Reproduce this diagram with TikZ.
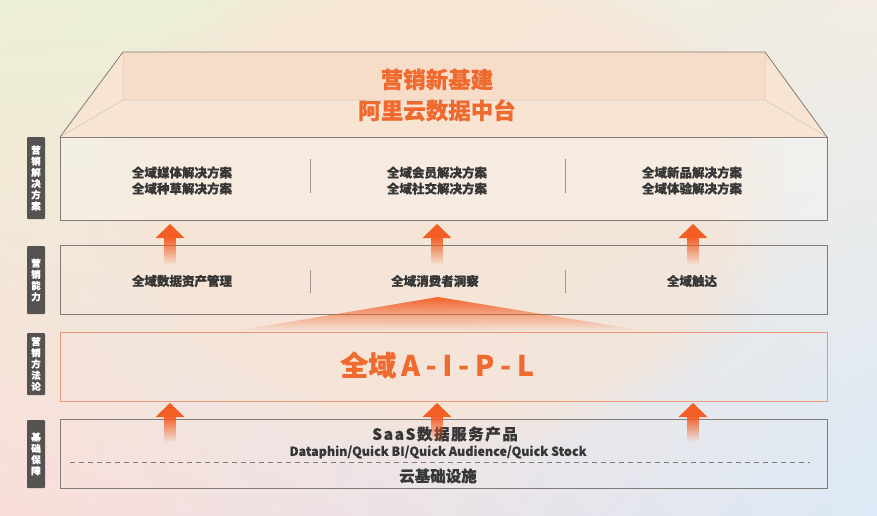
\documentclass[tikz,border=0pt]{standalone}
\usepackage{fontspec}
\setmainfont{Noto Sans CJK SC}
\usetikzlibrary{fadings,shadings}
\definecolor{bgTL}{RGB}{236,239,212}
\definecolor{bgTR}{RGB}{242,236,228}
\definecolor{bgBL}{RGB}{250,222,218}
\definecolor{bgBR}{RGB}{220,233,246}
\definecolor{peach}{RGB}{248,228,212}
\definecolor{roofc}{RGB}{248,228,210}
\definecolor{rooftop}{RGB}{247,220,199}
\definecolor{titleor}{RGB}{238,106,46}
\definecolor{arrowor}{RGB}{242,94,36}
\definecolor{txtgray}{RGB}{55,55,55}
\definecolor{linegray}{RGB}{130,124,120}
\definecolor{labgray}{RGB}{85,82,82}
\definecolor{aiplborder}{RGB}{236,150,118}
\tikzset{
  rowbox/.style={draw=linegray, line width=0.7pt, minimum width=767pt, inner sep=0pt},
  rowtxt/.style={text=txtgray, align=center, font=\bfseries\fontsize{12.5}{16}\selectfont\addfontfeature{FakeBold=0.8}},
  lab/.style={fill=labgray, text=white, minimum width=18pt, inner sep=0pt, rounded corners=1pt, align=center, font=\bfseries\fontsize{9.5}{11.2}\selectfont\addfontfeature{FakeBold=0.6}},
  divider/.style={draw=linegray!80, line width=0.5pt},
  headfill/.style={fill=arrowor},
  shaftfill/.style={fill=arrowor, path fading=south},
}
\newcommand{\uparrowshape}[4]{% x, tip y, head base y, shaft bottom y
  \fill[shaftfill] (#1-6,#3-1) rectangle (#1+6,#4);
  \fill[headfill] (#1-14.5,#3) -- (#1,#2) -- (#1+14.5,#3) -- cycle;
}
\begin{document}
\begin{tikzpicture}[x=1pt,y=-1pt]
\useasboundingbox (0,0) rectangle (877,515);
% background
\shade[upper left=bgTL, upper right=bgTR, lower left=bgBL, lower right=bgBR] (0,0) rectangle (877,515);
\fill[peach, path fading=circle with fuzzy edge 20 percent, opacity=0.7] (90,-60) rectangle (790,460);

% roof
\fill[roofc] (123,52) -- (765,52) -- (827,137) -- (60,137) -- cycle;
\fill[rooftop] (123,52) rectangle (765,100);
\draw[linegray!45, line width=0.5pt] (123,52) -- (123,100) -- (765,100) -- (765,52)
  (123,100) -- (60,137) (765,100) -- (827,137);
\draw[linegray, line width=0.8pt] (60,137) -- (123,52) -- (765,52) -- (827,137);
\node[text=titleor, font=\bfseries\fontsize{22.5}{31}\selectfont\addfontfeature{FakeBold=0.5}, align=center] (title) at (437,95) {营销新基建\\阿里云数据中台};

% row 1
\node[rowbox, minimum height=83pt, fill=white, fill opacity=0.25] (sol) at (443.5,178.5) {};
\node[rowtxt] (s1) at (182,180.5) {全域媒体解决方案\\全域种草解决方案};
\node[rowtxt] (s2) at (437,180.5) {全域会员解决方案\\全域社交解决方案};
\node[rowtxt] (s3) at (692,180.5) {全域新品解决方案\\全域体验解决方案};
\draw[divider] (310,159) -- (310,193) (565,159) -- (565,193);

% row 2
\node[rowbox, minimum height=69pt] (cap) at (443.5,279.5) {};
\node[rowtxt] (c1) at (182,281) {全域数据资产管理};
\node[rowtxt] (c2) at (435,281) {全域消费者洞察};
\node[rowtxt] (c3) at (692,281) {全域触达};
\draw[divider] (310,270) -- (310,293) (565,270) -- (565,293);

% arrows row2 -> row1
\uparrowshape{170}{224}{238}{265}
\uparrowshape{437}{224}{238}{265}
\uparrowshape{693}{224}{238}{265}

% triangle
\fill[arrowor, path fading=south, opacity=0.95] (438,297) -- (645,331) -- (235,331) -- cycle;

% row 3
\node[rowbox, draw=aiplborder, minimum height=69pt] (aipl) at (443.5,366.5) {};
\node[text=titleor, font=\bfseries\fontsize{28}{32}\selectfont\addfontfeature{FakeBold=0.5}] (aipltxt) at (437,365)
  {全域\hspace{5pt}A\hspace{6pt}-\hspace{6pt}I\hspace{6pt}-\hspace{6pt}P\hspace{6pt}-\hspace{6pt}L};

% row 4
\node[rowbox, minimum height=69pt] (base) at (443.5,453.5) {};
\node[text=txtgray, font=\bfseries\fontsize{15.5}{18}\selectfont\addfontfeature{LetterSpace=10,FakeBold=0.6}] (saas) at (445,434) {SaaS数据服务产品};
\node[text=txtgray, font=\bfseries\fontsize{12.5}{14}\selectfont\addfontfeature{FakeBold=0.4}] (prod) at (438,452) {Dataphin/Quick BI/Quick Audience/Quick Stock};
\coordinate (dl) at (70,462);
\coordinate (dr) at (810,462);
\draw[linegray, line width=0.8pt, dash pattern=on 5pt off 4pt] (dl) -- (dr);
\node[text=txtgray, font=\bfseries\fontsize{15.5}{18}\selectfont\addfontfeature{FakeBold=0.6}] (cloud) at (438,476) {云基础设施};

% arrows row4 -> row3
\uparrowshape{170}{403}{417}{442}
\uparrowshape{437}{403}{417}{442}
\uparrowshape{693}{403}{417}{442}

% left labels
\node[lab, minimum height=82pt] (l1) at (36,178) {营\\销\\解\\决\\方\\案};
\node[lab, minimum height=68pt] (l2) at (36,280) {营\\销\\能\\力};
\node[lab, minimum height=62pt] (l3) at (36,364) {营\\销\\方\\法\\论};
\node[lab, minimum height=68pt] (l4) at (36,454) {基\\础\\保\\障};
\end{tikzpicture}
\end{document}
